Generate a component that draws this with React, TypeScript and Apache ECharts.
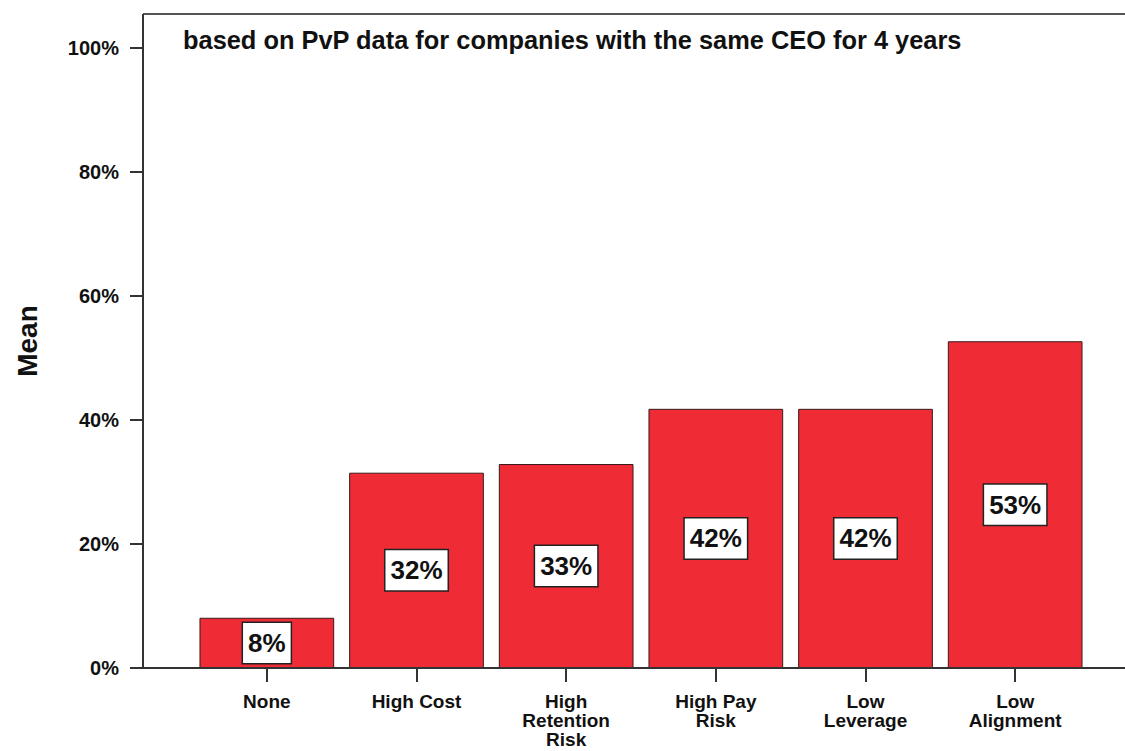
import React, { useEffect, useRef } from "react";
import * as echarts from "echarts";

const categories = ["None", "High Cost", "High\nRetention\nRisk", "High Pay\nRisk", "Low\nLeverage", "Low\nAlignment"];
const meanValues = [8.1, 31.5, 32.9, 41.8, 41.8, 52.7];
const yTicks = [0, 20, 40, 60, 80, 100];
const titleText = "based on PvP data for companies with the same CEO for 4 years";
const yAxisTitle = "Mean";

const FONT = "'Liberation Sans', Arial, sans-serif";

export default function App() {
  const ref = useRef<HTMLDivElement>(null);
  useEffect(() => {
    if (!ref.current) return;
    const chart = echarts.init(ref.current, undefined, { renderer: "svg" });
    chart.setOption({
      animation: false,
      backgroundColor: "#ffffff",
      grid: { left: 192, right: 35, top: 48, bottom: 83, containLabel: false, outerBoundsMode: "none" },
      xAxis: {
        type: "category",
        data: categories,
        axisLine: { show: false },
        axisTick: { show: true, alignWithLabel: true, length: 14, lineStyle: { color: "#333", width: 2 } },
        axisLabel: {
          margin: 24,
          interval: 0,
          color: "#111",
          fontFamily: FONT,
          fontWeight: "bold",
          fontSize: 19,
          lineHeight: 19,
        },
      },
      yAxis: {
        type: "value",
        min: yTicks[0],
        max: yTicks[yTicks.length - 1],
        interval: 20,
        offset: 49,
        axisLine: { show: false },
        axisTick: { show: true, length: 13, lineStyle: { color: "#333", width: 2 } },
        splitLine: { show: false },
        axisLabel: {
          margin: 24,
          color: "#111",
          fontFamily: FONT,
          fontWeight: "bold",
          fontSize: 20,
          formatter: (v: number) => `${v}%`,
        },
      },
      graphic: [
        { type: "line", shape: { x1: 143, y1: 14, x2: 1125, y2: 14 }, style: { stroke: "#555", lineWidth: 2 }, z: 10 },
        { type: "line", shape: { x1: 143, y1: 14, x2: 143, y2: 669 }, style: { stroke: "#333", lineWidth: 2 }, z: 10 },
        { type: "line", shape: { x1: 142, y1: 668, x2: 1125, y2: 668 }, style: { stroke: "#333", lineWidth: 2 }, z: 10 },
        {
          type: "text",
          x: 183,
          y: 40,
          style: {
            text: titleText,
            fontFamily: FONT,
            fontWeight: "bold",
            fontSize: 25.4,
            fill: "#111",
            align: "left",
            verticalAlign: "middle",
          },
          z: 10,
        },
        {
          type: "text",
          x: 27,
          y: 341,
          rotation: Math.PI / 2,
          style: {
            text: yAxisTitle,
            fontFamily: FONT,
            fontWeight: "bold",
            fontSize: 28,
            fill: "#111",
            align: "center",
            verticalAlign: "middle",
          },
          z: 10,
        },
      ],
      series: [
        {
          type: "bar",
          data: meanValues,
          barCategoryGap: "10%",
          itemStyle: { color: "#EF2B36", borderColor: "#3a1a1a", borderWidth: 1 },
          label: {
            show: true,
            position: "inside",
            formatter: (p: any) => `${Math.round(p.value)}%`,
            color: "#111",
            fontFamily: FONT,
            fontWeight: "bold",
            fontSize: 26,
            lineHeight: 30,
            backgroundColor: "#ffffff",
            borderColor: "#222",
            borderWidth: 1.5,
            padding: [6, 5, 4, 5],
          },
        },
      ],
    });
    return () => chart.dispose();
  }, []);
  return <div ref={ref} style={{ position: "absolute", left: 0, top: 0, width: 1125, height: 751 }} />;
}
